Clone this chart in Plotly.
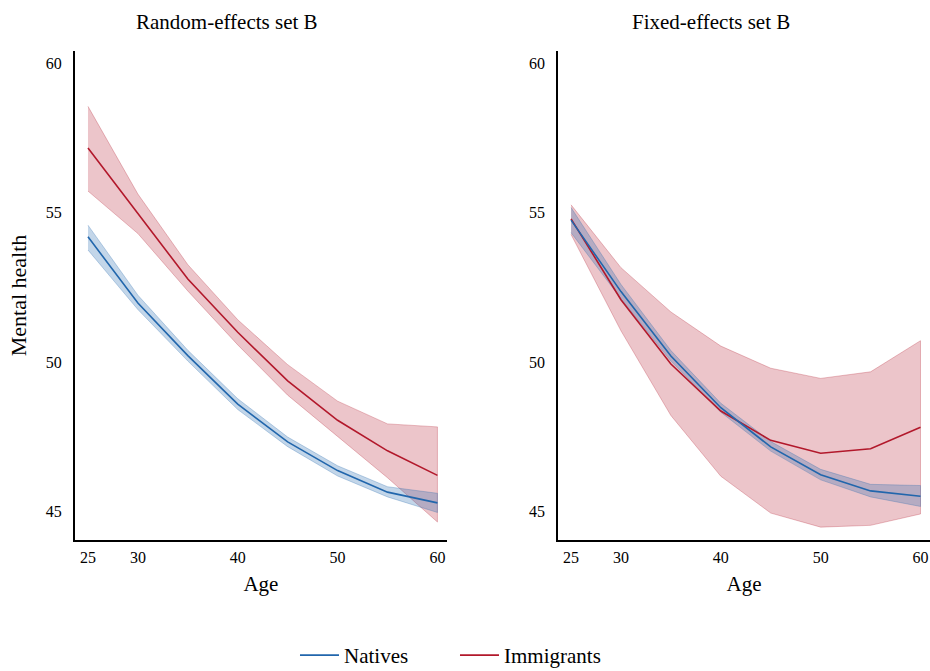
import plotly.graph_objects as go
from plotly.subplots import make_subplots

ages = [25, 30, 35, 40, 45, 50, 55, 60]
x_ticks = [25, 30, 40, 50, 60]
y_ticks = [45, 50, 55, 60]
panel_titles = ["Random-effects set B", "Fixed-effects set B"]

# Random-effects set B
re_nat_mean = [54.19, 51.98, 50.22, 48.60, 47.34, 46.38, 45.66, 45.30]
re_nat_low = [53.75, 51.76, 50.04, 48.42, 47.18, 46.20, 45.50, 44.98]
re_nat_high = [54.58, 52.24, 50.40, 48.78, 47.50, 46.54, 45.84, 45.62]
re_imm_mean = [57.16, 54.96, 52.78, 51.00, 49.38, 48.06, 47.04, 46.22]
re_imm_low = [55.72, 54.30, 52.38, 50.58, 48.90, 47.52, 46.14, 44.66]
re_imm_high = [58.55, 55.62, 53.26, 51.42, 49.92, 48.70, 47.94, 47.84]

# Fixed-effects set B
fe_nat_mean = [54.75, 52.36, 50.21, 48.48, 47.17, 46.24, 45.70, 45.52]
fe_nat_low = [54.33, 52.12, 50.04, 48.33, 47.03, 46.07, 45.50, 45.18]
fe_nat_high = [55.17, 52.60, 50.39, 48.63, 47.35, 46.42, 45.92, 45.88]
fe_imm_mean = [54.79, 52.09, 49.94, 48.37, 47.39, 46.96, 47.11, 47.83]
fe_imm_low = [54.27, 51.05, 48.22, 46.19, 44.96, 44.49, 44.55, 44.93]
fe_imm_high = [55.26, 53.16, 51.68, 50.54, 49.80, 49.46, 49.68, 50.72]

BLUE = "#2166ac"
RED = "#b2182b"
BLUE_FILL = "rgba(33,102,172,0.27)"
RED_FILL = "rgba(178,24,43,0.25)"
BLUE_EDGE = "rgba(33,102,172,0.35)"
RED_EDGE = "rgba(178,24,43,0.35)"
FONT = "Liberation Serif"

fig = make_subplots(rows=1, cols=2, horizontal_spacing=0.13)

panels = [
    (1, re_nat_mean, re_nat_low, re_nat_high, re_imm_mean, re_imm_low, re_imm_high),
    (2, fe_nat_mean, fe_nat_low, fe_nat_high, fe_imm_mean, fe_imm_low, fe_imm_high),
]

for col, nm, nl, nh, im, il, ih in panels:
    show = col == 1
    fig.add_trace(go.Scatter(
        x=ages + ages[::-1], y=ih + il[::-1], fill="toself", fillcolor=RED_FILL,
        line=dict(color=RED_EDGE, width=0.8), mode="lines", showlegend=False,
        hoverinfo="skip"), row=1, col=col)
    fig.add_trace(go.Scatter(
        x=ages + ages[::-1], y=nh + nl[::-1], fill="toself", fillcolor=BLUE_FILL,
        line=dict(color=BLUE_EDGE, width=0.8), mode="lines", showlegend=False,
        hoverinfo="skip"), row=1, col=col)
    fig.add_trace(go.Scatter(
        x=ages, y=im, mode="lines", line=dict(color=RED, width=1.6),
        name="Immigrants", showlegend=show, legendrank=2), row=1, col=col)
    fig.add_trace(go.Scatter(
        x=ages, y=nm, mode="lines", line=dict(color=BLUE, width=1.6),
        name="Natives", showlegend=show, legendrank=1), row=1, col=col)

axis_common = dict(
    showline=True, linecolor="black", linewidth=2, showgrid=False, zeroline=False,
    ticks="outside", tickcolor="rgba(0,0,0,0)",
    tickfont=dict(family=FONT, size=16, color="black"),
)

for i in (1, 2):
    fig.update_xaxes(axis_common, ticklen=2, range=[23.7, 60.95], tickvals=x_ticks,
                     ticktext=[str(v) for v in x_ticks],
                     title=dict(text="Age", font=dict(family=FONT, size=21, color="black"),
                                standoff=11),
                     row=1, col=i)
    fig.update_yaxes(axis_common, ticklen=8, range=[44.06, 60.4], tickvals=y_ticks,
                     ticktext=[str(v) for v in y_ticks], row=1, col=i)

fig.update_layout(
    xaxis=dict(domain=[0.0, 0.435]),
    xaxis2=dict(domain=[0.565, 1.0]),
    yaxis=dict(title=dict(text="Mental health", font=dict(family=FONT, size=22, color="black"),
                          standoff=13)),
)

title_pos = [0.1772, 0.7439]
for txt, xp in zip(panel_titles, title_pos):
    fig.add_annotation(text=txt, x=xp, y=1.0593, xref="paper", yref="paper",
                       xanchor="center", yanchor="middle", showarrow=False,
                       font=dict(family=FONT, size=21, color="black"))

fig.update_layout(
    width=930, height=671,
    margin=dict(l=75, r=0, t=51, b=131, autoexpand=False),
    paper_bgcolor="white", plot_bgcolor="white",
    font=dict(family=FONT, color="black"),
    legend=dict(orientation="h", x=0.2573, xanchor="left", y=-0.2781, yanchor="bottom",
                font=dict(family=FONT, size=21, color="black"),
                itemwidth=39, entrywidth=106, traceorder="normal"),
)

fig.write_html("out.html")
